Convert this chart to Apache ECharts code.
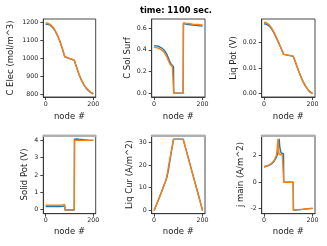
<!DOCTYPE html>
<html><head><meta charset="utf-8">
<script src="https://cdn.jsdelivr.net/npm/echarts@6/dist/echarts.min.js"></script>
<style>html,body{margin:0;padding:0;background:#fff}#c{width:327px;height:246px}</style>
</head><body><div id="c"></div>
<script>
const titleText = 'time: 1100 sec.';
const xTicks = [0, 200];

// C Elec (mol/m^3)
const cElecX = [0,10,20,30,40,50,60,70,80,90,100,110,120,130,140,150,160,170,180,190,200];
const cElecBlue = [1190,1189,1183,1171,1152,1126,1094,1054,1009,1004,999,994,989,949,910,878,853,834,820,809,802];
const cElecOrange = [1197,1195,1188,1175,1155,1128,1095,1055,1010,1005,1000,995,990,950,912,880,855,836,822,811,804];
const cElecTicks = [800,900,1000,1100,1200];

// C Sol Surf
const cSolX = [0,10,20,30,40,50,60,65,70,75,80,81,90,100,110,120,121,130,140,150,160,170,180,190,200];
const cSolBlue = [0.437,0.436,0.430,0.418,0.400,0.370,0.320,0.290,0.270,0.255,0.245,0.002,0.002,0.002,0.002,0.002,0.640,0.636,0.633,0.630,0.628,0.625,0.623,0.620,0.618];
const cSolOrange = [0.422,0.420,0.412,0.400,0.380,0.345,0.295,0.270,0.255,0.245,0.240,0.000,0.000,0.001,0.000,0.000,0.648,0.645,0.642,0.639,0.636,0.634,0.632,0.630,0.628];
const cSolTicks = [0.0,0.2,0.4,0.6];

// Liq Pot (V)
const liqPotX = [0,10,20,30,40,50,60,70,80,90,100,110,120,130,140,150,160,170,180,190,200];
const liqPotBlue = [0.0275,0.0273,0.0267,0.0256,0.0240,0.0220,0.0199,0.0177,0.0154,0.0152,0.0150,0.0148,0.0146,0.0121,0.0094,0.0069,0.0047,0.0029,0.0015,0.0004,-0.0002];
const liqPotOrange = [0.0281,0.0279,0.0272,0.0260,0.0243,0.0223,0.0202,0.0179,0.0155,0.0153,0.0151,0.0149,0.0147,0.0122,0.0095,0.0070,0.0048,0.0030,0.0016,0.0005,-0.0001];
const liqPotTicks = [0.00,0.01,0.02];

// Solid Pot (V)
const solPotX = [0,20,40,60,70,75,80,81,100,120,121,130,140,160,180,200];
const solPotBlue = [0.18,0.18,0.18,0.18,0.19,0.20,0.21,-0.02,-0.02,-0.02,4.06,4.08,4.06,4.03,4.01,4.00];
const solPotOrange = [0.26,0.26,0.26,0.26,0.27,0.28,0.30,-0.01,-0.01,-0.01,4.00,4.00,4.00,4.00,4.00,4.01];
const solPotTicks = [0,1,2,3,4];

// Liq Cur (A/m^2)
const liqCurX = [0,10,20,30,40,50,55,60,65,70,75,80,90,100,110,120,130,140,150,160,170,180,190,200];
const liqCurBlue = [0,2.6,5.3,8.0,10.9,13.6,15.6,18.4,21.8,25.0,28.1,31.3,31.3,31.3,31.3,31.3,27.4,23.5,19.6,15.7,11.8,7.9,4.0,0.0];
const liqCurOrange = [0,2.6,5.3,8.0,10.9,13.8,16.6,19.8,22.7,25.5,28.4,31.2,31.2,31.2,31.2,31.2,27.3,23.4,19.5,15.6,11.7,7.8,3.9,0.0];
const liqCurTicks = [0,10,20,30];

// j main (A/m^2)
const jMainX = [0,10,20,30,40,45,50,53,55,57,58,60,62,65,70,75,80,81,90,100,110,120,121,130,140,160,180,200];
const jMainBlue = [1.15,1.20,1.27,1.38,1.55,1.68,1.85,1.98,2.10,2.30,2.50,3.00,3.27,2.60,2.20,2.30,2.15,0.0,0.0,0.0,0.0,0.0,-2.12,-2.11,-2.08,-2.05,-2.01,-1.98];
const jMainOrange = [1.18,1.22,1.30,1.42,1.60,1.75,2.00,2.30,2.80,3.27,3.00,2.40,2.10,2.05,2.15,2.05,2.00,0.0,0.0,0.0,0.0,0.0,-2.10,-2.09,-2.07,-2.04,-2.01,-1.98];
const jMainTicks = [-2,0,2];

const FONT = 'DejaVu Sans';
const BLUE = '#1f77b4', ORANGE = '#ff7f0e';

const panels = [
  {x:cElecX, b:cElecBlue, o:cElecOrange, name:'C Elec (mol/m^3)', ymin:785, ymax:1219, ticks:cElecTicks, dec:0, left:43.3, top:19, w:52.4, h:78, ygap:28, xgap:15, row:0},
  {x:cSolX, b:cSolBlue, o:cSolOrange, name:'C Sol Surf', ymin:-0.034, ymax:0.683, ticks:cSolTicks, dec:1, left:151.7, top:19, w:53.3, h:78, ygap:16.5, xgap:15, row:0},
  {x:liqPotX, b:liqPotBlue, o:liqPotOrange, name:'Liq Pot (V)', ymin:-0.0015, ymax:0.0294, ticks:liqPotTicks, dec:2, left:261.7, top:19, w:53.3, h:78, ygap:16.5, xgap:15, row:0},
  {x:solPotX, b:solPotBlue, o:solPotOrange, name:'Solid Pot (V)', ymin:-0.23, ymax:4.29, ticks:solPotTicks, dec:0, left:43.3, top:135.3, w:52.4, h:78.4, ygap:14.5, xgap:13.5, row:1},
  {x:liqCurX, b:liqCurBlue, o:liqCurOrange, name:'Liq Cur (A/m^2)', ymin:-1.4, ymax:33.0, ticks:liqCurTicks, dec:0, left:151.7, top:135.3, w:53.3, h:78.4, ygap:16.5, xgap:13.5, row:1},
  {x:jMainX, b:jMainBlue, o:jMainOrange, name:'j main (A/m^2)', ymin:-2.38, ymax:3.54, ticks:jMainTicks, dec:0, left:261.7, top:135.3, w:53.3, h:78.4, ygap:16.5, xgap:13.5, row:1}
];

const grid = [], xAxis = [], yAxis = [], series = [];
const txt = {fontFamily:FONT, color:'#222'};
panels.forEach((p, i) => {
  grid.push({left:p.left, top:p.top, width:p.w, height:p.h, show:true, borderColor:'#333', borderWidth:0.9, backgroundColor:'transparent'});
  const xi = xAxis.length;
  xAxis.push({
    gridIndex:i, type:'value', min:-10, max:210, position:'bottom',
    axisLine:{show:true, onZero:false, lineStyle:{color:'#333', width:0.9}},
    axisTick:{show:true, customValues:xTicks, length:3, lineStyle:{color:'#333', width:0.9}},
    axisLabel:{show:true, customValues:xTicks, fontSize:6.3, margin:4, ...txt},
    splitLine:{show:false},
    name:'node #', nameLocation:'middle', nameGap:p.xgap,
    nameTextStyle:{fontSize:8.5, ...txt}
  });
  if (p.row === 1) {
    xAxis.push({
      gridIndex:i, type:'value', min:-10, max:210, position:'top',
      axisLine:{show:true, onZero:false, lineStyle:{color:'#b0b0b0', width:2}},
      axisTick:{show:false}, axisLabel:{show:false}, splitLine:{show:false}
    });
  }
  yAxis.push({
    gridIndex:i, type:'value', min:p.ymin, max:p.ymax,
    axisLine:{show:true, onZero:false, lineStyle:{color:'#333', width:0.9}},
    axisTick:{show:true, customValues:p.ticks, length:3, lineStyle:{color:'#333', width:0.9}},
    axisLabel:{show:true, customValues:p.ticks, fontSize:6.3, margin:5, ...txt,
      formatter: v => Number(v).toFixed(p.dec)},
    splitLine:{show:false},
    name:p.name, nameLocation:'middle', nameGap:p.ygap, nameRotate:90,
    nameTextStyle:{fontSize:8.5, ...txt}
  });
  [[p.b, BLUE], [p.o, ORANGE]].forEach(([vals, col]) => {
    series.push({
      type:'line', xAxisIndex:xi, yAxisIndex:i, showSymbol:false, symbol:'none',
      animation:false, silent:true,
      lineStyle:{color:col, width:1.4},
      data: p.x.map((xv, k) => [xv, vals[k]])
    });
  });
});

const chart = echarts.init(document.getElementById('c'), null, {renderer:'canvas'});
chart.setOption({
  animation:false,
  backgroundColor:'#fff',
  grid, xAxis, yAxis, series,
  graphic:[{type:'text', x:176, y:11, style:{text:titleText, align:'center', verticalAlign:'middle', font:'bold 8.3px "DejaVu Sans"', fill:'#000'}}]
});
</script>
</body></html>
